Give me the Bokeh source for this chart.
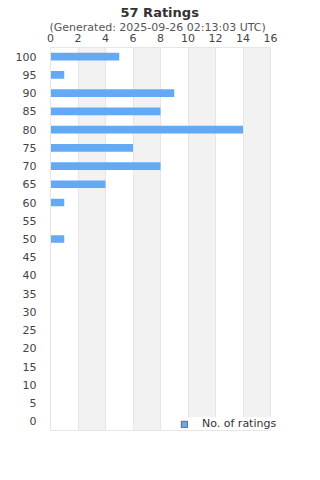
from bokeh.plotting import figure
from bokeh.models import (ColumnDataSource, FactorRange, Title, Legend, LegendItem,
                          FixedTicker, LinearAxis, Range1d)
from bokeh.embed import file_html
from bokeh.resources import INLINE

categories = [str(v) for v in range(0, 105, 5)]
ratings = [0, 0, 0, 0, 0, 0, 0, 0, 0, 0, 1, 0, 1, 4, 8, 6, 14, 8, 9, 1, 5]
x_ticks = [0, 2, 4, 6, 8, 10, 12, 14, 16]
x_max = 16
title_text = "57 Ratings"
subtitle_text = "(Generated: 2025-09-26 02:13:03 UTC)"
series_name = "No. of ratings"

BAR = "#63a9f3"
FONT = "DejaVu Sans"
GRID = "#e6e6e6"

src = ColumnDataSource(data=dict(cat=categories, val=ratings))

# frame runs a little past the last tick so the legend can overhang like the original
p = figure(width=320, height=480, output_backend="svg", toolbar_location=None,
           y_range=FactorRange(factors=categories), x_range=Range1d(0, x_max * 242 / 220),
           x_axis_location="above", min_border_left=50, min_border_right=28,
           min_border_bottom=50, min_border_top=0)
p.outline_line_color = None

r = p.hbar(y="cat", right="val", left=0, height=0.42, source=src,
           fill_color=BAR, line_color=None)
legend_glyph = p.hbar(y="cat", right="val", left=0, height=0.42, source=src,
                      fill_color=BAR, line_color="#666666", visible=False)

p.add_layout(Title(text=subtitle_text, align="left", offset=-1, text_font=FONT,
                   text_font_size="11px", text_font_style="normal", text_color="#555555",
                   standoff=-6), "above")
p.add_layout(Title(text=title_text, align="left", offset=70, text_font=FONT,
                   text_font_size="13px", text_font_style="bold", text_color="#333333",
                   standoff=4), "above")

xa = p.xaxis[0]
xa.ticker = FixedTicker(ticks=x_ticks)
xa.bounds = (0, x_max)
xa.axis_line_color = GRID
xa.major_tick_line_color = None
xa.minor_tick_line_color = None
xa.major_tick_out = 0
xa.major_tick_in = 0
xa.major_label_standoff = 6
xa.major_label_text_font = FONT
xa.major_label_text_font_size = "11px"
xa.major_label_text_color = "#444444"

bottom = LinearAxis(ticker=FixedTicker(ticks=[]), bounds=(0, x_max),
                    axis_line_color=GRID, major_tick_line_color=None,
                    minor_tick_line_color=None, major_label_text_font_size="0px")
p.add_layout(bottom, "below")

p.yaxis.axis_line_color = GRID
p.yaxis.major_tick_line_color = None
p.yaxis.minor_tick_line_color = None
p.yaxis.major_label_standoff = 8
p.yaxis.major_label_text_font = FONT
p.yaxis.major_label_text_font_size = "11px"
p.yaxis.major_label_text_color = "#444444"

p.ygrid.grid_line_color = None
p.xgrid.ticker = FixedTicker(ticks=x_ticks)
p.xgrid.grid_line_color = GRID
p.xgrid.band_fill_color = "#f2f2f2"
p.xgrid.band_fill_alpha = 1.0

legend = Legend(items=[LegendItem(label=series_name, renderers=[legend_glyph])],
                location=(130, 0), orientation="horizontal",
                label_text_font=FONT, label_text_font_size="11px", label_text_color="#333333",
                glyph_width=8, glyph_height=8, background_fill_color="white",
                background_fill_alpha=1.0, border_line_color=None, padding=5, spacing=4,
                label_standoff=14, inactive_fill_alpha=0.0, click_policy="none")
p.add_layout(legend, "center")

open("out.html", "w").write(file_html(p, INLINE))
